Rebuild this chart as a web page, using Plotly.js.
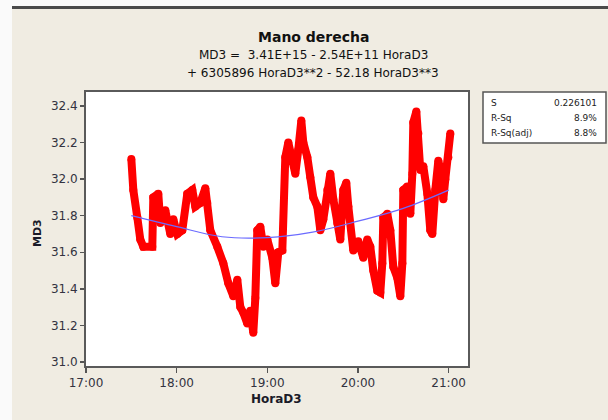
<!DOCTYPE html>
<html>
<head>
<meta charset="utf-8">
<script src="https://cdn.plot.ly/plotly-3.0.1.min.js"></script>
<style>html,body{margin:0;padding:0;background:#F0ECE2;}#chart{width:608px;height:420px;}</style>
</head>
<body>
<div id="chart"></div>
<script>
// Observed data: time of day (HoraD3) and MD3
const obsTime = ["17:30:00","17:31:19","17:33:58","17:35:56","17:37:56","17:43:53","17:44:33","17:47:51","17:49:11","17:52:29",
"17:55:48","17:57:47","18:00:26","18:03:44","18:07:03","18:10:22","18:12:21","18:15:39","18:18:58","18:20:17",
"18:22:16","18:26:55","18:30:53","18:34:11","18:37:30","18:40:09","18:42:08","18:44:07","18:46:46","18:48:45",
"18:50:44","18:52:04","18:53:23","18:55:22","18:57:21","19:00:00","19:03:19","19:05:18","19:07:17","19:09:56",
"19:11:55","19:13:54","19:16:33","19:18:32","19:20:31","19:22:31","19:23:50","19:26:29","19:28:28","19:30:27",
"19:33:06","19:35:05","19:37:04","19:39:43","19:41:42","19:43:41","19:46:20","19:48:19","19:50:18","19:52:17",
"19:53:37","19:56:56","20:00:14","20:03:33","20:06:11","20:08:11","20:10:10","20:12:49","20:14:48","20:16:07",
"20:16:47","20:19:26","20:21:25","20:23:24","20:26:03","20:28:02","20:29:22","20:30:01","20:32:40","20:34:40",
"20:35:59","20:36:38","20:38:38","20:39:57","20:41:16","20:43:16","20:45:55","20:47:53","20:49:13","20:51:12",
"20:53:11","20:55:10","20:56:30","20:57:49","20:59:49","21:01:08"];
const obsMD3 = [32.11,31.94,31.79,31.67,31.63,31.63,31.90,31.92,31.76,31.83,
31.70,31.78,31.70,31.72,31.92,31.94,31.85,31.87,31.95,31.87,
31.72,31.63,31.54,31.43,31.36,31.45,31.30,31.27,31.21,31.28,
31.16,31.35,31.72,31.74,31.63,31.67,31.57,31.43,31.60,31.61,
32.12,32.20,32.12,32.03,32.16,32.32,32.20,32.12,32.01,31.90,
31.85,31.72,31.78,31.94,32.03,31.89,31.76,31.67,31.94,31.98,
31.85,31.61,31.66,31.57,31.67,31.63,31.50,31.39,31.38,31.54,
31.79,31.81,31.72,31.52,31.46,31.36,31.54,31.94,31.96,31.81,
32.03,32.31,32.37,32.25,32.05,32.07,31.92,31.72,31.70,31.94,
32.10,32.03,31.89,32.00,32.12,32.25];

// Fitted cubic regression curve
const fitTime = ["17:30:00","18:00:00","18:30:00","19:00:00","19:30:00","20:00:00","20:30:00","21:00:00"];
const fitMD3 = [31.80,31.74,31.685,31.68,31.71,31.77,31.84,31.94];

const yTicks = [31.0,31.2,31.4,31.6,31.8,32.0,32.2,32.4];
const titleText = "Mano derecha";
const eqLine1 = "MD3 =\u00A0 3.41E+15 - 2.54E+11 HoraD3";
const eqLine2 = "+ 6305896 HoraD3**2 - 52.18 HoraD3**3";
const statLabels = ["S","R-Sq","R-Sq(adj)"];
const statValues = ["0.226101","8.9%","8.8%"];

const day = "2020-01-01 ";
const toDate = t => day + t;

const FONT = "DejaVu Sans, Verdana, sans-serif";
const L = 86, R = 468, T = 92, B = 366, W = 608, H = 420;
const px = x => (x - L) / (R - L);
const py = y => (B - y) / (B - T);

const traces = [
  {x: obsTime.map(toDate), y: obsMD3, type: "scatter", mode: "lines+markers",
   line: {color: "#FF0000", width: 8}, marker: {color: "#FF0000", size: 8},
   hoverinfo: "skip", showlegend: false},
  {x: fitTime.map(toDate), y: fitMD3, type: "scatter", mode: "lines",
   line: {color: "#6A6AFF", width: 1.2, shape: "spline"}, hoverinfo: "skip", showlegend: false}
];

const annotations = [
  {text: "<b>" + titleText + "</b>", x: px(313), y: py(37), xref: "paper", yref: "paper", showarrow: false,
   font: {family: FONT, size: 14, color: "#111"}, xanchor: "center", yanchor: "middle"},
  {text: eqLine1, x: px(313), y: py(55), xref: "paper", yref: "paper", showarrow: false,
   font: {family: FONT, size: 12, color: "#111"}, xanchor: "center", yanchor: "middle"},
  {text: eqLine2, x: px(313), y: py(73), xref: "paper", yref: "paper", showarrow: false,
   font: {family: FONT, size: 12, color: "#111"}, xanchor: "center", yanchor: "middle"},
  {text: "<b>HoraD3</b>", x: px(276), y: py(399), xref: "paper", yref: "paper", showarrow: false,
   font: {family: FONT, size: 12, color: "#1a1a28"}, xanchor: "center", yanchor: "middle"},
  {text: "<b>MD3</b>", x: px(37), y: py(233), xref: "paper", yref: "paper", showarrow: false, textangle: -90,
   font: {family: FONT, size: 11, color: "#1a1a28"}, xanchor: "center", yanchor: "middle"}
];
const rowY = [103, 118, 133];
statLabels.forEach((s, i) => {
  annotations.push({text: s, x: px(489), y: py(rowY[i]), xref: "paper", yref: "paper", showarrow: false,
    font: {family: FONT, size: 9, color: "#222"}, xanchor: "left", yanchor: "middle"});
  annotations.push({text: statValues[i], x: px(599), y: py(rowY[i]), xref: "paper", yref: "paper", showarrow: false,
    font: {family: FONT, size: 9, color: "#222"}, xanchor: "right", yanchor: "middle"});
});

const shapes = [
  {type: "rect", xref: "paper", yref: "paper", x0: px(0), x1: px(12), y0: py(420), y1: py(0),
   fillcolor: "#FAFAFA", line: {width: 0}, layer: "below"},
  {type: "rect", xref: "paper", yref: "paper", x0: px(12), x1: px(608), y0: py(6), y1: py(0),
   fillcolor: "#FAFAFA", line: {width: 0}, layer: "below"},
  {type: "rect", xref: "paper", yref: "paper", x0: px(12), x1: px(608), y0: py(9), y1: py(6),
   fillcolor: "#4A4A4A", line: {width: 0}, layer: "below"},
  {type: "rect", xref: "paper", yref: "paper", x0: px(483), x1: px(606), y0: py(143), y1: py(92),
   fillcolor: "#FFFFFF", line: {color: "#555", width: 1.5}}
];

const layout = {
  width: W, height: H,
  margin: {l: L, r: W - R, t: T, b: H - B, pad: 0},
  paper_bgcolor: "#F0ECE2", plot_bgcolor: "#FFFFFF",
  showlegend: false,
  xaxis: {type: "date", range: [toDate("17:00:00"), toDate("21:12:50")],
    tick0: toDate("17:00:00"), dtick: 3600000, tickformat: "%H:%M",
    ticks: "outside", ticklen: 5, tickcolor: "#555", tickwidth: 1.5,
    showgrid: false, zeroline: false, showline: true, mirror: true, linecolor: "#5a5a5a", linewidth: 2,
    tickfont: {family: FONT, size: 12, color: "#333340"}},
  yaxis: {range: [30.978, 32.4765], tickmode: "array", tickvals: yTicks, tickformat: ".1f",
    ticks: "outside", ticklen: 4, tickcolor: "#555", tickwidth: 1.5,
    showgrid: false, zeroline: false, showline: true, mirror: true, linecolor: "#5a5a5a", linewidth: 2,
    tickfont: {family: FONT, size: 12, color: "#333340"}},
  annotations: annotations,
  shapes: shapes
};

Plotly.newPlot("chart", traces, layout, {staticPlot: true, displayModeBar: false});
</script>
</body>
</html>
